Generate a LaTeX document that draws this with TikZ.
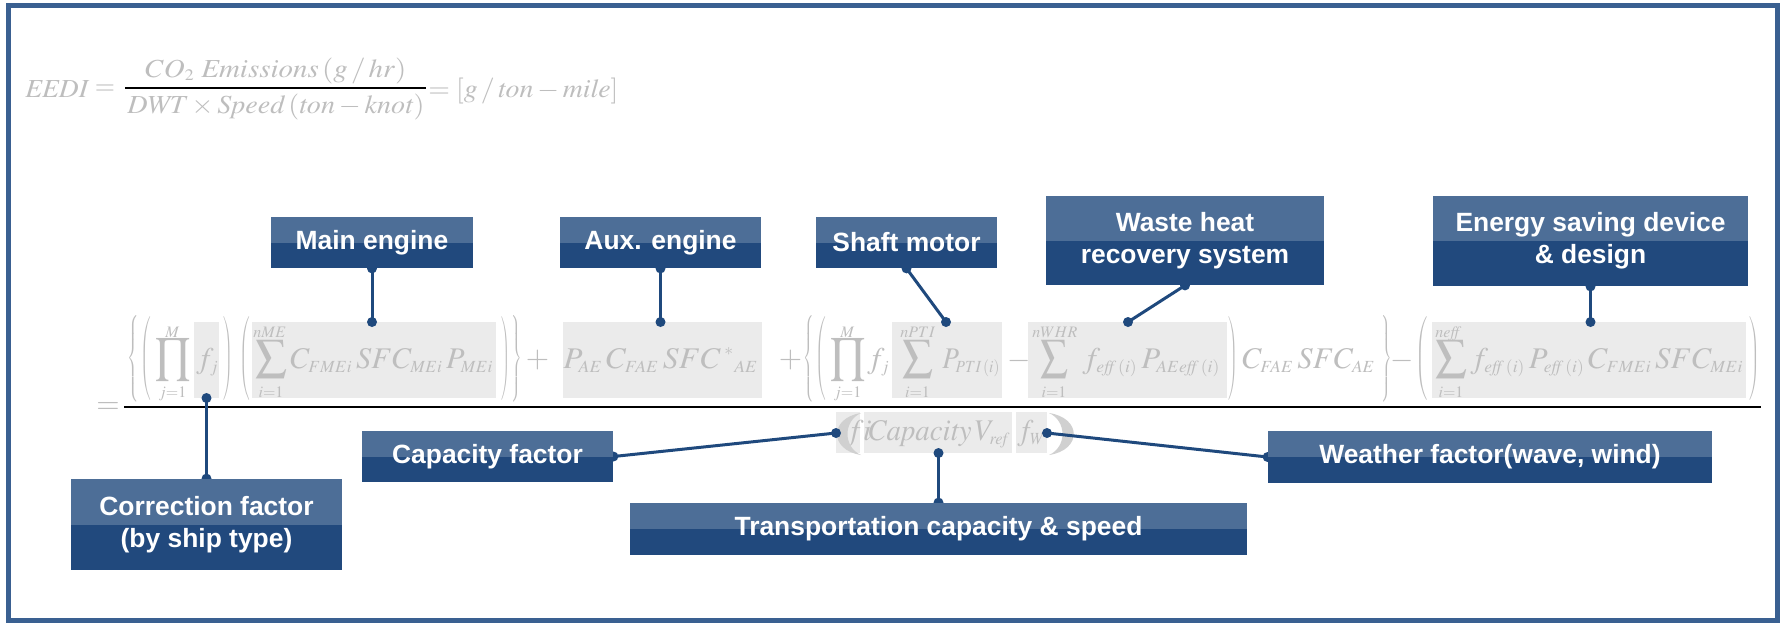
\documentclass[tikz,border=0pt]{standalone}
\usepackage{mathptmx}
\usepackage[no-math]{fontspec}
\usepackage{graphicx}
\newfontfamily\labfont{Liberation Sans}
\DeclareMathSizes{15}{15}{8.5}{6.5}
\DeclareMathSizes{13}{13}{8}{6}

\definecolor{labtop}{RGB}{77,110,151}
\definecolor{labbot}{RGB}{33,73,125}
\definecolor{linkblue}{RGB}{31,73,125}
\definecolor{framec}{RGB}{58,96,145}
\definecolor{fgray}{RGB}{190,190,190}
\definecolor{hlgray}{RGB}{235,235,235}
\definecolor{pargray}{RGB}{208,208,208}

\pgfdeclarelayer{paper}
\pgfdeclarelayer{formula}
\pgfdeclarelayer{links}
\pgfsetlayers{paper,formula,links,main}

% glyph fitted into a box of given width and total height (pt), centred at (x,y)
\newcommand\fm[5]{\node[inner sep=0pt,text=fgray] at (#1,#2) {\resizebox*{#3pt}{#4pt}{$\displaystyle #5$}};}
% opening / closing delimiters fitted into a box
\newcommand\ldl[5]{\node[inner sep=0pt,text=fgray] at (#1,#2) {\resizebox*{#3pt}{#4pt}{$\left#5\vrule height 2em depth 2em width 0pt\right.$}};}
\newcommand\rdl[5]{\node[inner sep=0pt,text=fgray] at (#1,#2) {\resizebox*{#3pt}{#4pt}{$\left.\vrule height 2em depth 2em width 0pt\right#5$}};}
% run of terms set on a baseline: x, baseline, width (pt), font size (pt), math
\newcommand\tm[5]{\node[inner sep=0pt,text=fgray,anchor=base west,font=\fontsize{#4}{#4}\selectfont] at (#1,#2) {\resizebox{#3pt}{\height}{$\displaystyle #5$}};}
% terms at natural width
\newcommand\nat[4]{\node[inner sep=0pt,text=fgray,anchor=base west,font=\fontsize{#3}{#3}\selectfont] at (#1,#2) {$\displaystyle #4$};}
% sign at natural size
\newcommand\sgn[3]{\node[inner sep=0pt,text=fgray,font=\fontsize{15}{15}\selectfont] at (#1,#2) {$#3$};}
% big operator with limits: centre x, width, height, glyph, x of upper limit, upper, lower
\newcommand\bigop[7]{%
  \fm{#1}{359}{#2}{#3}{#4}
  \node[inner sep=0pt,text=fgray,anchor=base west,font=\fontsize{8}{8}\selectfont] at (#5,337) {$#6$};
  \node[inner sep=0pt,text=fgray,anchor=base,font=\fontsize{8}{8}\selectfont] at (#1,397) {$#7$};}

\tikzset{
  x=0.5pt, y=-0.5pt,
  labbox/.style={fill=labbot, text=white, align=center, inner sep=0pt,
    font=\labfont\bfseries\fontsize{13.2}{16}\selectfont,
    path picture={\fill[labtop] (path picture bounding box.north west) rectangle (path picture bounding box.east);}},
  link/.style={draw=linkblue, line width=1.5pt},
}

\begin{document}
\begin{tikzpicture}
\useasboundingbox (0,0) rectangle (1787,623);
\begin{pgfonlayer}{paper}
  \fill[white] (0,0) rectangle (1787,623);
\end{pgfonlayer}

\begin{pgfonlayer}{formula}
  % EEDI definition
  \tm{25}{97}{32}{13}{\mathit{EEDI}}
  \node[inner sep=0pt,text=fgray,font=\fontsize{13}{13}\selectfont] at (105,90) {$=$};
  \tm{145}{77}{130.5}{13}{CO_2\;\mathit{Emissions}\,(g\,/\,hr)}
  \tm{127}{113}{148.5}{13}{\mathit{DWT}\times\mathit{Speed}\,(\mathit{ton}-\mathit{knot})}
  \draw[black, line width=1pt] (125,88) -- (426,88);
  \tm{428}{97}{95}{13}{=[g\,/\,\mathit{ton}-\mathit{mile}]}

  % highlighted terms
  \fill[hlgray] (194,322) rectangle (219,398);
  \fill[hlgray] (252,322) rectangle (496,398);
  \fill[hlgray] (563,322) rectangle (762,398);
  \fill[hlgray] (892,322) rectangle (1002,398);
  \fill[hlgray] (1028,322) rectangle (1227,398);
  \fill[hlgray] (1432,322) rectangle (1746,398);
  \fill[hlgray] (836,412) rectangle (860,453);
  \fill[hlgray] (864,412) rectangle (1012,453);
  \fill[hlgray] (1016,412) rectangle (1047,453);

  % numerator
  \sgn{108}{408}{=}
  \ldl{133.5}{360}{6.5}{45}{\{}
  \ldl{146}{360}{6}{43}{(}
  \bigop{172.5}{17.5}{21}{\prod}{165}{M}{j{=}1}
  \nat{196}{368}{15}{f_j}
  \rdl{227.5}{360}{5.5}{43}{)}
  \ldl{245}{360}{6}{43}{(}
  \bigop{271}{16}{19}{\sum}{253}{nME}{i{=}1}
  \tm{290}{368}{101.5}{15}{C_{FMEi}\,SFC_{MEi}\,P_{MEi}}
  \rdl{505}{360}{5}{43}{)}
  \rdl{516.5}{360}{6}{45}{\}}
  \sgn{537.5}{360}{+}
  \tm{563}{368}{97.5}{15}{P_{AE}\,C_{FAE}\,SFC\,{}^{\ast}{}_{AE}}
  \sgn{790.5}{360}{+}
  \ldl{809}{360}{6}{45}{\{}
  \ldl{821}{360}{6}{43}{(}
  \bigop{847.5}{17.5}{21}{\prod}{840}{M}{j{=}1}
  \nat{867}{368}{15}{f_j}
  \bigop{917.5}{15.5}{19}{\sum}{900}{nPTI}{i{=}1}
  \tm{942}{368}{29}{15}{P_{PTI\,(i)}}
  \sgn{1019.5}{361}{-}
  \bigop{1054}{14}{19}{\sum}{1032}{nWHR}{i{=}1}
  \tm{1082}{368}{69}{15}{f_{\mathit{eff}\,(i)}\,P_{AE\mathit{eff}\,(i)}}
  \rdl{1232.5}{360}{5.5}{43}{)}
  \tm{1242}{368}{66.5}{15}{C_{FAE}\,SFC_{AE}}
  \rdl{1386}{360}{6}{45}{\}}
  \sgn{1402.5}{361}{-}
  \ldl{1422.5}{360}{7}{43}{(}
  \bigop{1451}{16}{19}{\sum}{1435}{\mathit{neff}}{i{=}1}
  \tm{1470}{368}{136.5}{15}{f_{\mathit{eff}\,(i)}\,P_{\mathit{eff}\,(i)}\,C_{FMEi}\,SFC_{MEi}}
  \rdl{1754}{360}{6}{43}{)}

  % main fraction bar
  \draw[black, line width=1pt] (124,407) -- (1761,407);

  % denominator
  \nat{846}{440}{15}{fi}
  \tm{867}{440}{71.5}{15}{\mathit{Capacity}\,V_{\mathit{ref}}}
  \tm{1017}{440}{14}{15}{f_W}
  \fill[pargray] (861,413) .. controls (829,418) and (829,450) .. (861,455)
                 .. controls (843,447) and (843,421) .. cycle;
  \fill[pargray] (1049,413) .. controls (1082,418) and (1082,450) .. (1049,455)
                 .. controls (1067,447) and (1067,421) .. cycle;
\end{pgfonlayer}

% outer frame
\draw[framec, line width=2.5pt] (8.5,5.5) rectangle (1777.5,620);

% term labels
\node[labbox, minimum width=101pt, minimum height=25.5pt] (me) at (372,242.5) {Main engine};
\node[labbox, minimum width=100.5pt, minimum height=25.5pt] (ae) at (660.5,242.5) {Aux. engine};
\node[labbox, minimum width=90.5pt, minimum height=25.5pt] (sm) at (906.5,242.5) {Shaft motor};
\node[labbox, minimum width=139pt, minimum height=44.5pt] (wh) at (1185,240.5) {Waste heat\\recovery system};
\node[labbox, minimum width=157.5pt, minimum height=45pt] (es) at (1590.5,241) {Energy saving device\\\& design};
\node[labbox, minimum width=135.5pt, minimum height=45.5pt] (cf) at (206.5,524.5) {Correction factor\\(by ship type)};
\node[labbox, minimum width=125.5pt, minimum height=25.5pt] (cap) at (487.5,456.5) {Capacity factor};
\node[labbox, minimum width=308.5pt, minimum height=26pt] (tc) at (938.5,529) {Transportation capacity \& speed};
\node[labbox, minimum width=222pt, minimum height=26pt] (wf) at (1490,457) {Weather factor(wave, wind)};

% term anchors inside the formula
\coordinate (pme) at (372,322);
\coordinate (pae) at (660.5,322);
\coordinate (psm) at (946,322);
\coordinate (pwh) at (1128,322);
\coordinate (pes) at (1590.5,322);
\coordinate (pcf) at (206.5,398);
\coordinate (pcap) at (836,433);
\coordinate (ptc) at (938.5,453);
\coordinate (pwf) at (1047,433);

\begin{pgfonlayer}{links}
  \foreach \a/\b in {me.south/pme, ae.south/pae, sm.south/psm, wh.south/pwh,
                     es.south/pes, cf.north/pcf, cap.east/pcap, tc.north/ptc, wf.west/pwf} {
    \draw[link] (\a) -- (\b);
    \fill[linkblue] (\a) circle[radius=2.5pt] (\b) circle[radius=2.5pt];
  }
\end{pgfonlayer}
\end{tikzpicture}
\end{document}
